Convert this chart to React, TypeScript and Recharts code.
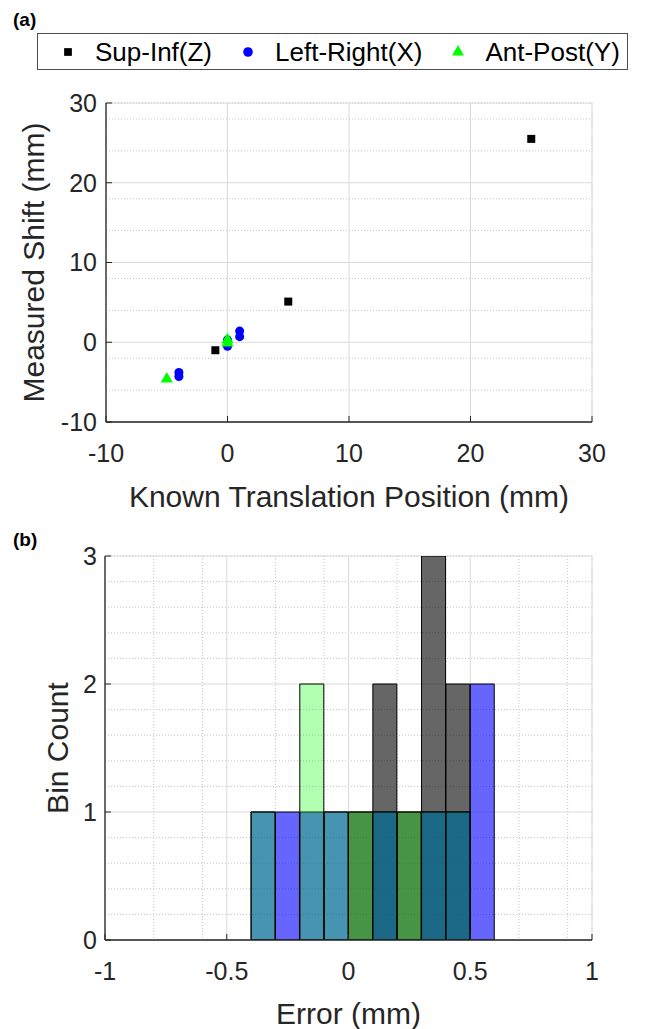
import React from 'react';
import {
  ScatterChart,
  Scatter,
  BarChart,
  Bar,
  XAxis,
  YAxis,
  ZAxis,
  CartesianGrid,
  Legend,
  Symbols,
} from 'recharts';

const FONT = '"Liberation Sans", Arial, Helvetica, sans-serif';
const AX = '#262626';

// ---------- Panel (a): measured shift vs known translation ----------
const seriesNames = ['Sup-Inf(Z)', 'Left-Right(X)', 'Ant-Post(Y)'];
const supInfX = [-1, 5, 25];
const supInfY = [-1, 5.1, 25.5];
const leftRightX = [-4, -4, 0, 0, 1, 1];
const leftRightY = [-3.8, -4.3, 0.3, -0.5, 1.4, 0.7];
const antPostX = [-5, 0, 0];
const antPostY = [-4.6, 0.3, -0.1];

const shiftMajorTicks = [-10, 0, 10, 20, 30];
const shiftMinorTicks = [-8, -6, -4, -2, 2, 4, 6, 8, 12, 14, 16, 18, 22, 24, 26, 28];

// ---------- Panel (b): error histogram ----------
const binCenters = [
  -0.95, -0.85, -0.75, -0.65, -0.55, -0.45, -0.35, -0.25, -0.15, -0.05,
  0.05, 0.15, 0.25, 0.35, 0.45, 0.55, 0.65, 0.75, 0.85, 0.95,
];
const countsZ = [0, 0, 0, 0, 0, 0, 0, 0, 0, 0, 1, 2, 1, 3, 2, 0, 0, 0, 0, 0];
const countsX = [0, 0, 0, 0, 0, 0, 1, 1, 1, 1, 0, 1, 0, 1, 1, 2, 0, 0, 0, 0];
const countsY = [0, 0, 0, 0, 0, 0, 1, 0, 2, 1, 1, 1, 1, 1, 1, 0, 0, 0, 0, 0];

const errorMajorTicks = [-1, -0.5, 0, 0.5, 1];
const errorMinorTicks = [
  -0.9, -0.8, -0.7, -0.6, -0.4, -0.3, -0.2, -0.1,
  0.1, 0.2, 0.3, 0.4, 0.6, 0.7, 0.8, 0.9,
];
const countMajorTicks = [0, 1, 2, 3];
const countMinorTicks = [0.2, 0.4, 0.6, 0.8, 1.2, 1.4, 1.6, 1.8, 2.2, 2.4, 2.6, 2.8];

const toPoints = (xs: number[], ys: number[]) => xs.map((x, i) => ({ x, y: ys[i] }));
const histData = binCenters.map((c, i) => ({
  center: c,
  z: countsZ[i],
  x: countsX[i],
  y: countsY[i],
}));

const tickStyle = { fontSize: 25, fill: AX, fontFamily: FONT };
const labelStyle = { fontSize: 30, fill: AX, fontFamily: FONT };

const renderLegend = (props: any) => {
  const payload = [...(props.payload || [])].sort(
    (a: any, b: any) => seriesNames.indexOf(a.value) - seriesNames.indexOf(b.value)
  );
  return (
    <div
      style={{
        display: 'flex',
        alignItems: 'center',
        width: '100%',
        height: '100%',
        boxSizing: 'border-box',
        border: '1.5px solid #4d4d4d',
        paddingLeft: 22,
        fontFamily: FONT,
        fontSize: 26,
        color: '#000',
        background: '#fff',
      }}
    >
      {payload.map((p: any, i: number) => (
        <div
          key={i}
          style={{ display: 'flex', alignItems: 'center', marginLeft: i === 0 ? 0 : 28 }}
        >
          <svg width={16} height={16} style={{ display: 'block' }}>
            <Symbols
              cx={8}
              cy={8}
              type={p.type}
              size={p.type === 'circle' ? 72 : p.type === 'triangle' ? 62 : 60}
              fill={p.color}
            />
          </svg>
          <span style={{ marginLeft: 19, lineHeight: 1, whiteSpace: 'nowrap' }}>{p.value}</span>
        </div>
      ))}
    </div>
  );
};

export default function App() {
  return (
    <div
      style={{
        position: 'absolute',
        left: 0,
        top: 0,
        width: 659,
        height: 1029,
        background: '#fff',
        fontFamily: FONT,
      }}
    >
      <svg
        width={659}
        height={1029}
        style={{ position: 'absolute', left: 0, top: 0, pointerEvents: 'none', zIndex: 2 }}
      >
        <text x={13} y={26} fontSize={19} fontWeight="bold" fontFamily={FONT} fill="#000">
          (a)
        </text>
        <text x={13} y={546} fontSize={19} fontWeight="bold" fontFamily={FONT} fill="#000">
          (b)
        </text>
      </svg>

      <div style={{ position: 'absolute', left: 0, top: 0 }}>
        <ScatterChart
          width={659}
          height={530}
          margin={{ top: 103, right: 67, bottom: 8, left: 46 }}
        >
          <XAxis
            xAxisId="xm"
            type="number"
            domain={[-10, 30]}
            ticks={shiftMinorTicks}
            allowDataOverflow
            height={0}
            hide
          />
          <YAxis
            yAxisId="ym"
            type="number"
            domain={[-10, 30]}
            ticks={shiftMinorTicks}
            allowDataOverflow
            width={0}
            hide
          />
          <CartesianGrid
            xAxisId="xm"
            yAxisId="ym"
            stroke="#c4c4c4"
            strokeDasharray="1 2"
          />
          <CartesianGrid stroke="#dadada" strokeWidth={1} />
          <ZAxis range={[81, 81]} />
          <ZAxis zAxisId="c" range={[95, 95]} />
          <ZAxis zAxisId="t" range={[80, 80]} />
          <Legend
            layout="horizontal"
            verticalAlign="middle"
            align="center"
            itemSorter={null as any}
            content={renderLegend}
            wrapperStyle={{ position: 'absolute', left: 37, top: 33, width: 591, height: 37 }}
          />
          <Scatter
            name={seriesNames[0]}
            data={toPoints(supInfX, supInfY)}
            fill="#000000"
            shape="square"
            legendType="square"
            isAnimationActive={false}
          />
          <Scatter
            name={seriesNames[1]}
            data={toPoints(leftRightX, leftRightY)}
            fill="#0000ff"
            shape="circle"
            legendType="circle"
            zAxisId="c"
            isAnimationActive={false}
          />
          <Scatter
            name={seriesNames[2]}
            data={toPoints(antPostX, antPostY)}
            fill="#00ff00"
            shape="triangle"
            legendType="triangle"
            zAxisId="t"
            isAnimationActive={false}
          />
          <XAxis
            type="number"
            dataKey="x"
            domain={[-10, 30]}
            ticks={shiftMajorTicks}
            interval={0}
            allowDataOverflow
            height={100}
            tick={tickStyle}
            tickSize={-6}
            tickMargin={28}
            tickLine={{ stroke: AX }}
            axisLine={{ stroke: AX, strokeWidth: 1.3 }}
            label={{
              value: 'Known Translation Position (mm)',
              position: 'insideBottom',
              offset: 15,
              style: labelStyle,
            }}
          />
          <YAxis
            type="number"
            dataKey="y"
            domain={[-10, 30]}
            ticks={shiftMajorTicks}
            interval={0}
            allowDataOverflow
            width={60}
            tick={tickStyle}
            tickSize={-6}
            tickMargin={15}
            tickLine={{ stroke: AX }}
            axisLine={{ stroke: AX, strokeWidth: 1.3 }}
            label={{
              value: 'Measured Shift (mm)',
              angle: -90,
              position: 'insideLeft',
              offset: -13,
              style: { ...labelStyle, textAnchor: 'middle' },
            }}
          />
        </ScatterChart>
      </div>

      <div style={{ position: 'absolute', left: 0, top: 530 }}>
        <BarChart
          width={659}
          height={499}
          data={histData}
          margin={{ top: 26, right: 67, bottom: 0, left: 45 }}
          barCategoryGap={0}
          barGap={0}
        >
          <XAxis
            xAxisId="xm"
            type="number"
            dataKey="center"
            domain={[-1, 1]}
            ticks={errorMinorTicks}
            allowDataOverflow
            height={0}
            hide
          />
          <YAxis
            yAxisId="ym"
            type="number"
            domain={[0, 3]}
            ticks={countMinorTicks}
            allowDataOverflow
            width={0}
            hide
          />
          <XAxis xAxisId="bz" type="category" dataKey="center" height={0} hide />
          <XAxis xAxisId="bx" type="category" dataKey="center" height={0} hide />
          <XAxis xAxisId="by" type="category" dataKey="center" height={0} hide />
          <CartesianGrid
            xAxisId="xm"
            yAxisId="ym"
            stroke="#c4c4c4"
            strokeDasharray="1 2"
          />
          <CartesianGrid xAxisId="num" stroke="#dadada" strokeWidth={1} />
          <Bar
            xAxisId="bz"
            dataKey="z"
            fill="#000000"
            fillOpacity={0.6}
            stroke="#000"
            strokeWidth={1}
            isAnimationActive={false}
          />
          <Bar
            xAxisId="bx"
            dataKey="x"
            fill="#0000ff"
            fillOpacity={0.6}
            stroke="#000"
            strokeWidth={1}
            isAnimationActive={false}
          />
          <Bar
            xAxisId="by"
            dataKey="y"
            fill="#00ff00"
            fillOpacity={0.3}
            stroke="#000"
            strokeWidth={1}
            isAnimationActive={false}
          />
          <XAxis
            xAxisId="num"
            type="number"
            dataKey="center"
            domain={[-1, 1]}
            ticks={errorMajorTicks}
            interval={0}
            allowDataOverflow
            height={89}
            tick={tickStyle}
            tickSize={-6}
            tickMargin={28}
            tickLine={{ stroke: AX }}
            axisLine={{ stroke: AX, strokeWidth: 1.3 }}
            label={{
              value: 'Error (mm)',
              position: 'insideBottom',
              offset: 5,
              style: labelStyle,
            }}
          />
          <YAxis
            type="number"
            domain={[0, 3]}
            ticks={countMajorTicks}
            interval={0}
            allowDataOverflow
            width={60}
            tick={tickStyle}
            tickSize={-6}
            tickMargin={14}
            tickLine={{ stroke: AX }}
            axisLine={{ stroke: AX, strokeWidth: 1.3 }}
            label={{
              value: 'Bin Count',
              angle: -90,
              position: 'insideLeft',
              offset: 12,
              style: { ...labelStyle, textAnchor: 'middle' },
            }}
          />
        </BarChart>
      </div>
    </div>
  );
}
